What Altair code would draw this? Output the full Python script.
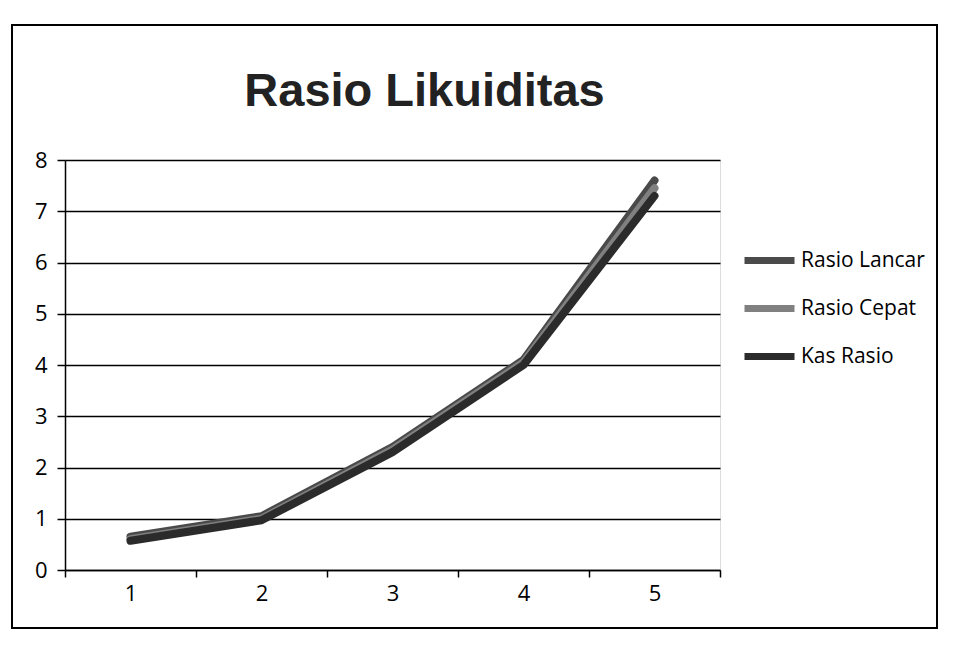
import altair as alt
import pandas as pd

categories = [1, 2, 3, 4, 5]
rasio_lancar = [0.65, 1.05, 2.4, 4.1, 7.6]
rasio_cepat = [0.6, 1.0, 2.35, 4.05, 7.45]
kas_rasio = [0.57, 0.97, 2.3, 4.0, 7.3]
series_names = ["Rasio Lancar", "Rasio Cepat", "Kas Rasio"]
series_colors = ["#4a4a4a", "#808080", "#2b2b2b"]

rows = []
for name, vals in zip(series_names, [rasio_lancar, rasio_cepat, kas_rasio]):
    for c, v in zip(categories, vals):
        rows.append({"Kategori": c, "Nilai": v, "Seri": name})
df = pd.DataFrame(rows)

lines = alt.Chart(df).mark_line(strokeWidth=8, strokeCap="round", strokeJoin="round").encode(
    x=alt.X("Kategori:O", bandPosition=0.5,
            scale=alt.Scale(type="band", paddingInner=0, paddingOuter=0),
            axis=alt.Axis(title=None, labelAngle=0, tickBand="extent", grid=False,
                          domainColor="black", tickColor="black", tickSize=7,
                          labelPadding=6, labelFontSize=22, labelFont="Open Sans",
                          labelColor="black", domainWidth=1.5, tickWidth=1.5)),
    y=alt.Y("Nilai:Q", scale=alt.Scale(domain=[0, 8], nice=False),
            axis=alt.Axis(title=None, values=[0, 1, 2, 3, 4, 5, 6, 7, 8], grid=True,
                          gridColor="black", gridWidth=1.5, gridOpacity=1,
                          domainColor="black", domainWidth=1.5, tickColor="black",
                          tickSize=8, tickWidth=1.5, labelPadding=10, labelFontSize=22,
                          labelFont="Open Sans", labelColor="black")),
    color=alt.Color("Seri:N", sort=series_names,
                    scale=alt.Scale(domain=series_names, range=series_colors),
                    legend=alt.Legend(title=None, orient="none", legendX=676, legendY=72,
                                      symbolType="stroke", symbolSize=2500,
                                      symbolStrokeWidth=7, labelFontSize=21,
                                      labelFont="Open Sans", labelColor="black",
                                      rowPadding=5, labelOffset=3)),
    order=alt.Order("Kategori:O"),
)

border = alt.Chart(df).mark_rect(filled=False, stroke="black", strokeWidth=1.5, clip=False).encode(
    x=alt.value(-53), x2=alt.value(872), y=alt.value(-135), y2=alt.value(468)
)

chart = alt.layer(border, lines).properties(
    width=655,
    height=410,
    title=alt.TitleParams("Rasio Likuiditas", fontSize=47, font="Liberation Sans",
                          fontWeight="bold", color="#222222", anchor="middle",
                          dx=32, offset=-92),
    autosize=alt.AutoSizeParams(type="none"),
    padding={"left": 57, "top": 152, "right": 220, "bottom": 60},
).configure_view(stroke=None).configure(background="white")

chart.save("out.html", embed_options={"renderer": "svg", "actions": False})
